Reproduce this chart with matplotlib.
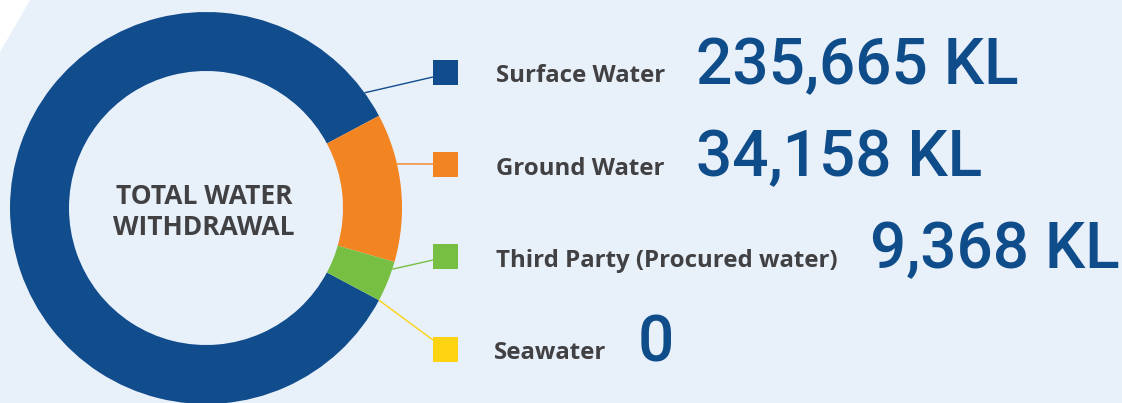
import numpy as np
import matplotlib
matplotlib.use("Agg")
import matplotlib.pyplot as plt
from matplotlib.patches import Rectangle, Polygon

# Water withdrawal by source (KL)
sources = ["Surface Water", "Ground Water", "Third Party (Procured water)", "Seawater"]
volumes = [235665, 34158, 9368, 0]
value_labels = ["235,665 KL", "34,158 KL", "9,368 KL", "0"]
colors = ["#114c8c", "#f38422", "#76bf43", "#fdd312"]

W, H = 1122, 403
BG = "#e8f0fa"
TEXT_GREY = "#414042"
NUM_BLUE = "#0f4c8a"

fig = plt.figure(figsize=(W / 100, H / 100), dpi=100)
fig.patch.set_facecolor("white")
ax = fig.add_axes([0, 0, 1, 1])
ax.set_axis_off()


def Y(y):
    # layout is described top-down in pixels
    return H - y


# light panel with a cut-off top-left corner
ax.add_patch(Polygon([(30, Y(0)), (W, Y(0)), (W, Y(H)), (0, Y(H)), (0, Y(52))],
                     closed=True, facecolor=BG, edgecolor="none", zorder=0))

# donut
cx, cy = 206, Y(208)
r_out, r_in = 196, 137
total = sum(volumes)
start = -180.0 * (volumes[1] + volumes[2]) / total
wedges, _ = ax.pie(volumes, colors=colors, startangle=start, counterclock=False,
                   radius=r_out, center=(cx, cy),
                   wedgeprops=dict(width=r_out - r_in, edgecolor="none", linewidth=0))

# centre caption
ax.text(cx - 2, Y(204), "TOTAL WATER", ha="center", va="baseline",
        fontsize=19, fontweight="bold", family="Open Sans", color=TEXT_GREY)
ax.text(cx - 2, Y(235), "WITHDRAWAL", ha="center", va="baseline",
        fontsize=19, fontweight="bold", family="Open Sans", color=TEXT_GREY)

# legend rows: connector angle on the ring, square top, label baseline, value baseline
anchor_deg = [36.0, 13.0, -18.2, wedges[3].theta2]
square_top = [60, 152, 244, 337]
label_base = [82, 175, 267, 359]
label_x = [496, 496, 496, 494]
value_x = [696, 696, 870, 638]
value_base = [84, 176, 268, 361]
sq_x, sq = 433, 25
line_end_y = [77, 164, 260, 340]

for i, src in enumerate(sources):
    a = np.deg2rad(anchor_deg[i])
    x0, y0 = cx + r_out * np.cos(a), cy + r_out * np.sin(a)
    ax.plot([x0, sq_x], [y0, Y(line_end_y[i])], color=colors[i], lw=1.0,
            solid_capstyle="butt", zorder=3)
    ax.add_patch(Rectangle((sq_x, Y(square_top[i] + sq)), sq, sq,
                           facecolor=colors[i], edgecolor="none", zorder=4))
    ax.text(label_x[i], Y(label_base[i]), src, ha="left", va="baseline",
            fontsize=17.3, fontweight="bold", family="Open Sans", color=TEXT_GREY)
    ax.text(value_x[i], Y(value_base[i]), value_labels[i], ha="left", va="baseline",
            fontsize=46, fontweight="medium", family="Roboto", color=NUM_BLUE)

ax.set_xlim(0, W)
ax.set_ylim(0, H)
ax.set_aspect("equal")

fig.savefig("out.png", dpi=100, facecolor=fig.get_facecolor())
